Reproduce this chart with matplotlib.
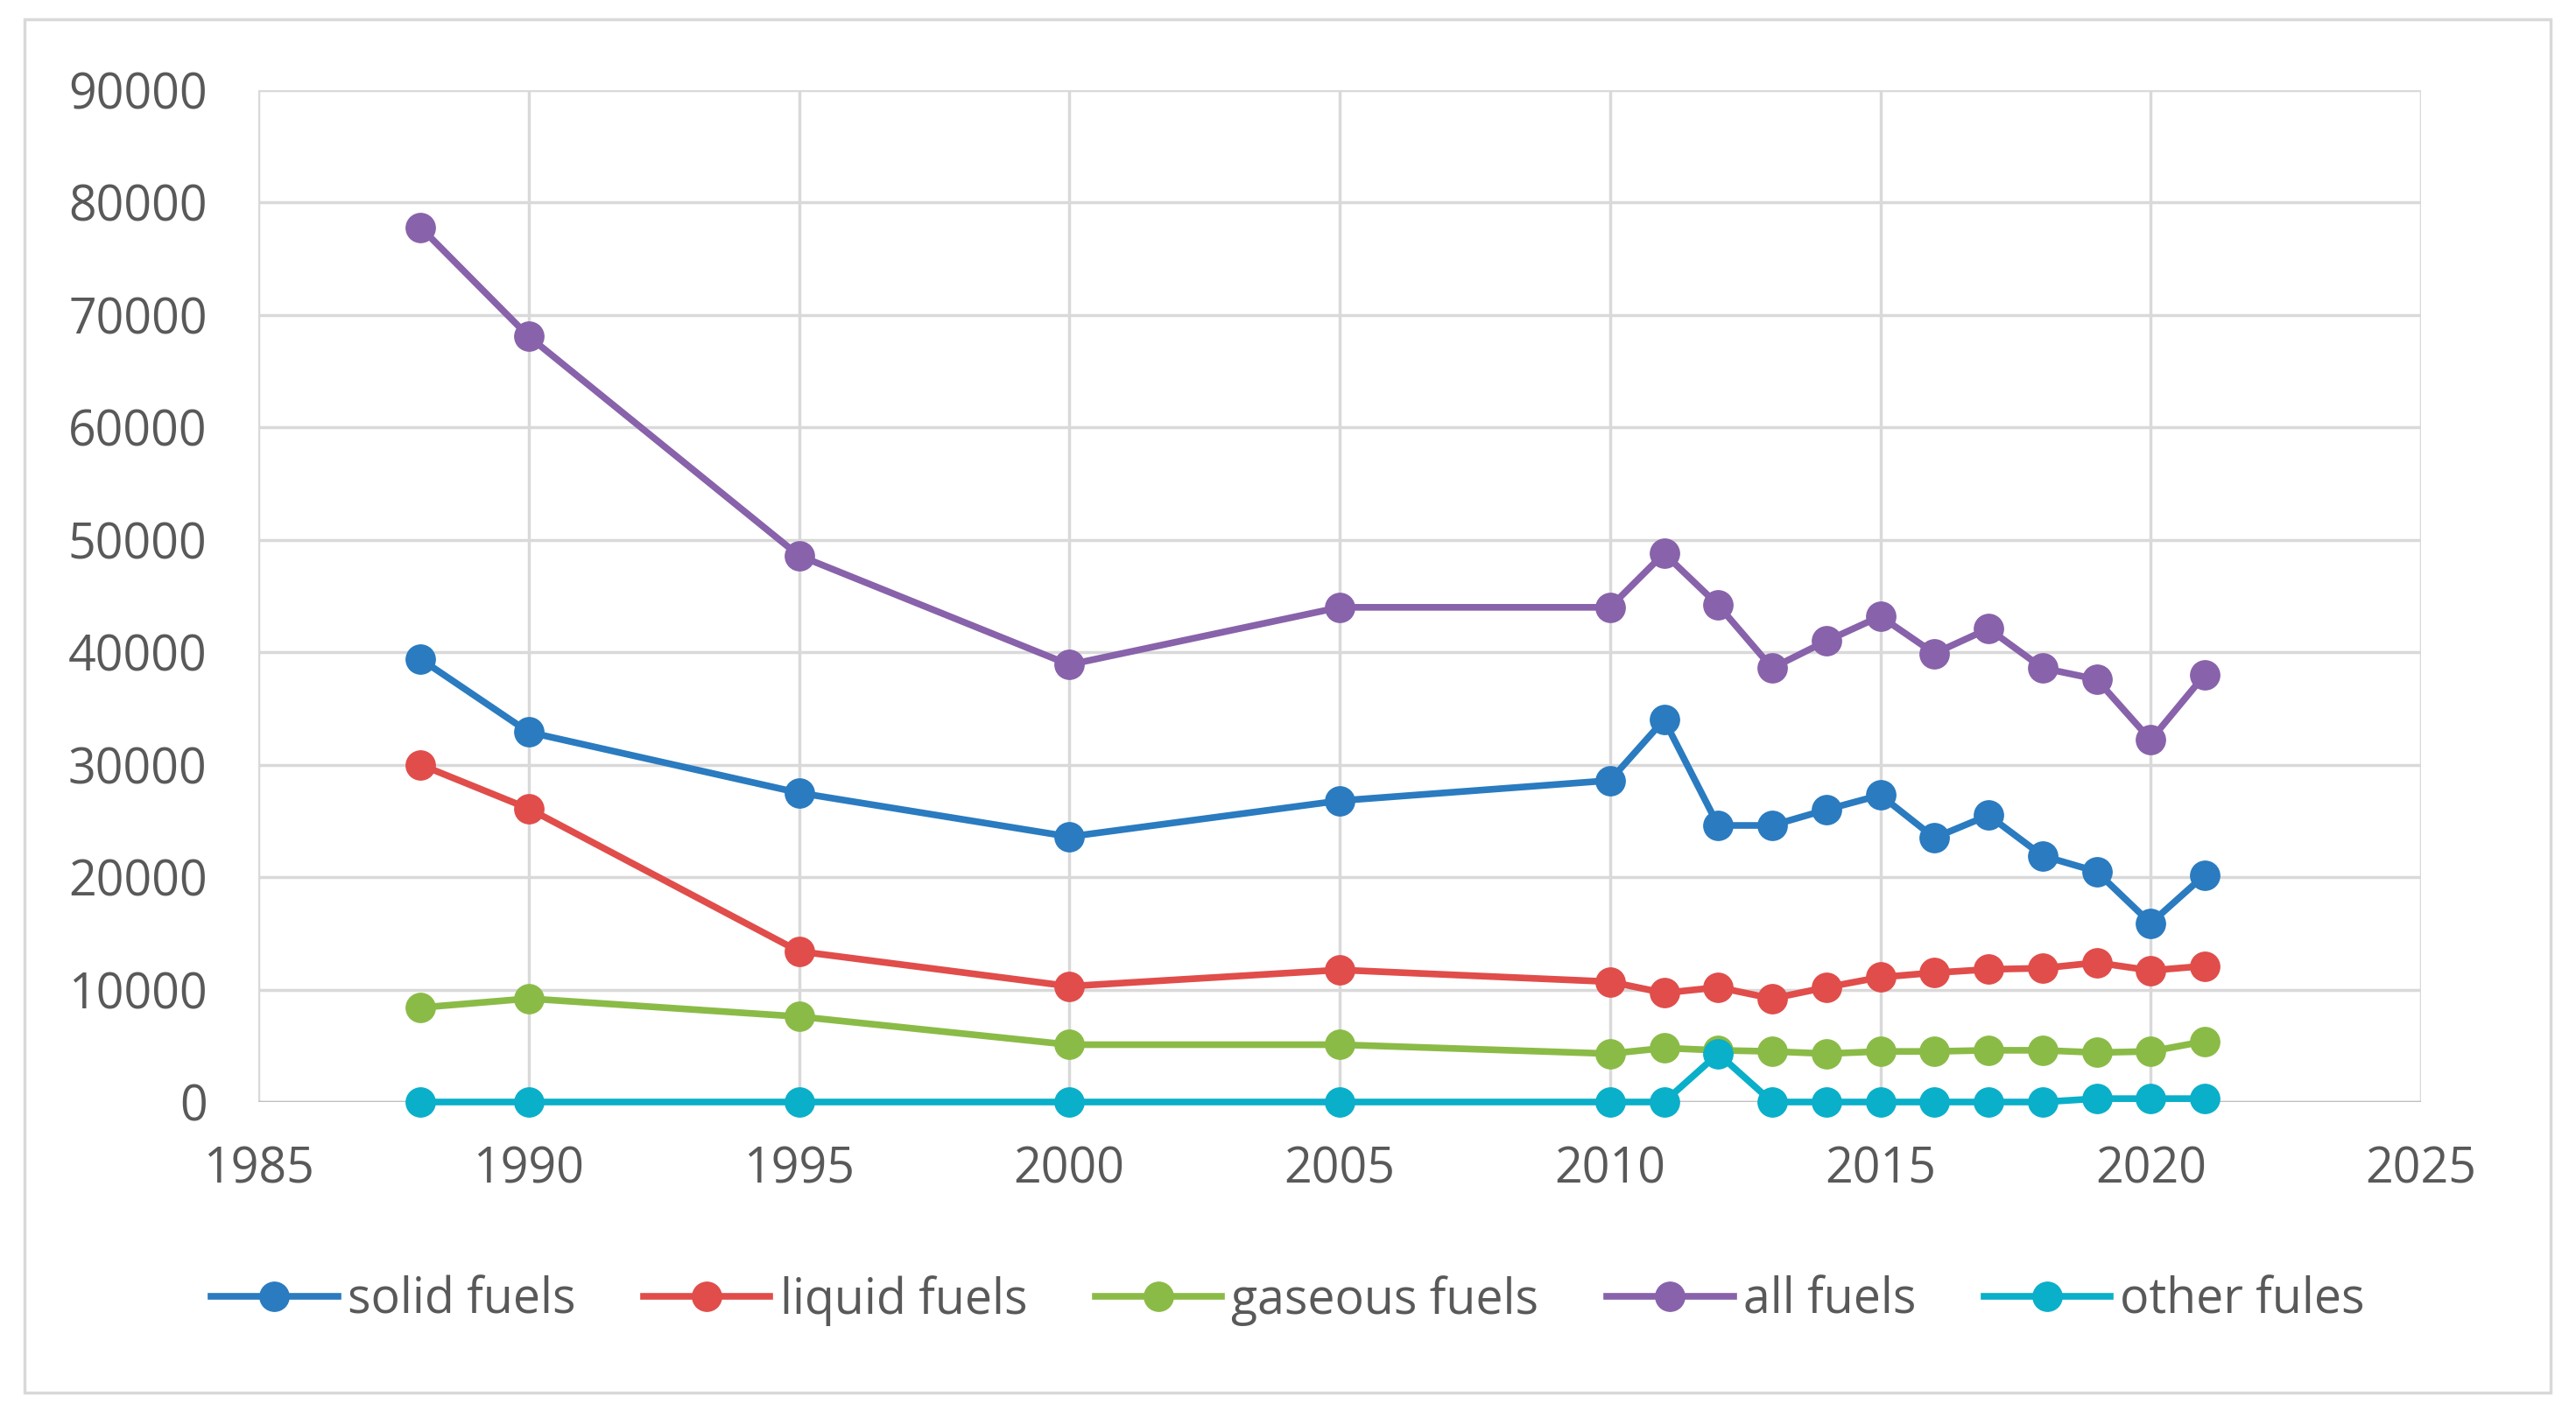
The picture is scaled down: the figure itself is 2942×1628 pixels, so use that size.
import matplotlib
matplotlib.use("Agg")
import matplotlib.pyplot as plt
from matplotlib.patches import Rectangle

years = [1988, 1990, 1995, 2000, 2005, 2010, 2011, 2012, 2013, 2014, 2015, 2016, 2017, 2018, 2019, 2020, 2021]
solid_fuels = [39400, 32900, 27500, 23600, 26800, 28600, 34000, 24600, 24600, 26000, 27300, 23500, 25500, 21900, 20500, 15900, 20200]
liquid_fuels = [30000, 26100, 13400, 10300, 11750, 10700, 9700, 10200, 9200, 10200, 11100, 11500, 11800, 11900, 12400, 11700, 12100]
gaseous_fuels = [8400, 9200, 7600, 5100, 5100, 4300, 4800, 4600, 4500, 4300, 4500, 4500, 4600, 4600, 4400, 4500, 5400]
all_fuels = [77800, 68100, 48600, 38900, 44000, 44000, 48800, 44200, 38600, 41000, 43200, 39900, 42100, 38600, 37600, 32200, 38000]
other_fuels = [0, 0, 0, 0, 0, 0, 0, 4300, 0, 0, 0, 0, 0, 0, 300, 300, 300]

series = [
    ("solid fuels", solid_fuels, "#2A7BC0"),
    ("liquid fuels", liquid_fuels, "#E04D4A"),
    ("gaseous fuels", gaseous_fuels, "#8BBB47"),
    ("all fuels", all_fuels, "#8862AA"),
    ("other fules", other_fuels, "#0AAFC9"),
]

plt.rcParams['font.family'] = ['Open Sans', 'DejaVu Sans']

W, H = 2942, 1628
fig = plt.figure(figsize=(W / 100, H / 100), dpi=100)
fig.patch.set_facecolor("white")

# outer frame
fig.patches.append(Rectangle((28 / W, 1 - 1591 / H), (2913 - 28) / W, (1591 - 22) / H,
                             transform=fig.transFigure, fill=False,
                             edgecolor="#D9D9D9", linewidth=2.5, zorder=0))

ax = fig.add_axes([295 / W, 1 - 1259 / H, (2765 - 295) / W, (1259 - 103) / H])
ax.set_xlim(1985, 2025)
ax.set_ylim(0, 90000)
ax.set_xticks(range(1985, 2026, 5))
ax.set_yticks(range(0, 90001, 10000))
ax.grid(True, color="#D9D9D9", linewidth=2.5)
ax.set_axisbelow(True)
for s in ax.spines.values():
    s.set_visible(False)
ax.axhline(0, color="#BFBFBF", linewidth=2.5, zorder=1)
ax.tick_params(length=0, labelsize=40, labelcolor="#595959")
ax.tick_params(axis="y", pad=42)
ax.tick_params(axis="x", pad=36)

for name, vals, col in series:
    ax.plot(years, vals, color=col, linewidth=5.5, marker="o", markersize=24,
            label=name, zorder=3, clip_on=False)

leg = fig.legend(loc="center", bbox_to_anchor=(0.5, 1 - 1486 / H), ncol=5, frameon=False,
                 fontsize=40, handlelength=2.6, handletextpad=0.2, columnspacing=1.4)
for t in leg.get_texts():
    t.set_color("#595959")

fig.savefig("out.png", dpi=100, facecolor="white")
